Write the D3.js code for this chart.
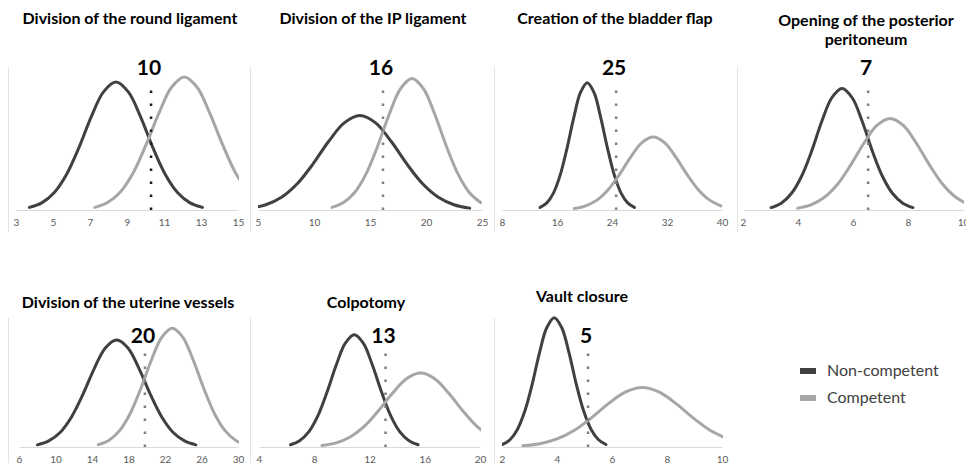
<!DOCTYPE html>
<html>
<head>
<meta charset="utf-8">
<script src="https://cdn.jsdelivr.net/npm/d3@7"></script>
<style>
  body { margin: 0; background: #fff; }
  svg { display: block; font-family: Lato, "Open Sans", sans-serif; }
</style>
</head>
<body>
<div id="chart"></div>
<script>
// one panel per surgical step
var titles = [
  ["Division of the round ligament"],
  ["Division of the IP ligament"],
  ["Creation of the bladder flap"],
  ["Opening of the posterior", "peritoneum"],
  ["Division of the uterine vessels"],
  ["Colpotomy"],
  ["Vault closure"]
];
var cutoffs = [10.3, 16.16, 24.6, 6.55, 19.8, 13.16, 5.13];
var cutoffLabels = ["10", "16", "25", "7", "20", "13", "5"];
var xDomains = [[3, 15], [5, 25], [8, 40], [2, 10], [6, 30], [4, 20], [2, 10]];
var tickValues = [
  [3, 5, 7, 9, 11, 13, 15],
  [5, 10, 15, 20, 25],
  [8, 16, 24, 32, 40],
  [2, 4, 6, 8, 10],
  [6, 10, 14, 18, 22, 26, 30],
  [4, 8, 12, 16, 20],
  [2, 4, 6, 8, 10]
];
var seriesNames = ["Non-competent", "Competent"];

// distribution curves (y in arbitrary units, 0-100)
var nonCompetentX = [
  [3.72, 4.39, 5.06, 5.73, 6.40, 7.06, 7.73, 8.40, 9.07, 9.74, 10.40, 11.07, 11.74, 12.41, 13.08],
  [4.3, 5.7, 7.1, 8.5, 9.9, 11.3, 12.7, 14.1, 15.5, 16.9, 18.3, 19.7, 21.1, 22.5, 23.9],
  [13.54, 14.52, 15.50, 16.48, 17.46, 18.44, 19.42, 20.40, 21.38, 22.36, 23.34, 24.32, 25.30, 26.28, 27.26],
  [3.02, 3.39, 3.76, 4.13, 4.50, 4.86, 5.23, 5.60, 5.97, 6.34, 6.70, 7.07, 7.44, 7.81, 8.18],
  [8.02, 9.26, 10.50, 11.74, 12.98, 14.22, 15.46, 16.70, 17.94, 19.18, 20.42, 21.66, 22.90, 24.14, 25.38],
  [6.28, 6.94, 7.60, 8.26, 8.92, 9.58, 10.24, 10.90, 11.56, 12.22, 12.88, 13.54, 14.20, 14.86, 15.52],
  [2.02, 2.29, 2.56, 2.83, 3.10, 3.36, 3.63, 3.90, 4.17, 4.44, 4.70, 4.97, 5.24, 5.51, 5.78]
];
var nonCompetentY = [
  [1.8, 5.0, 12.1, 24.9, 43.6, 65.0, 82.6, 89.5, 82.6, 65.0, 43.6, 24.9, 12.1, 5.0, 1.8],
  [1.3, 3.7, 8.9, 18.3, 32.1, 47.9, 60.9, 66, 60.9, 47.9, 32.1, 18.3, 8.9, 3.7, 1.3],
  [1.8, 5.0, 12.0, 24.7, 43.3, 64.6, 82.2, 89, 82.2, 64.6, 43.3, 24.7, 12.0, 5.0, 1.8],
  [1.7, 4.8, 11.5, 23.6, 41.4, 61.7, 78.5, 85, 78.5, 61.7, 41.4, 23.6, 11.5, 4.8, 1.7],
  [1.6, 4.6, 11.0, 22.6, 39.5, 59.0, 75.0, 81, 75.0, 59.0, 39.5, 22.6, 11.0, 4.6, 1.6],
  [1.7, 4.8, 11.5, 23.6, 41.4, 61.7, 78.5, 85, 78.5, 61.7, 41.4, 23.6, 11.5, 4.8, 1.7],
  [1.9, 5.5, 13.3, 27.2, 47.7, 71.2, 90.5, 98, 90.5, 71.2, 47.7, 27.2, 13.3, 5.5, 1.9]
];
var competentX = [
  [7.26, 7.95, 8.64, 9.33, 10.02, 10.72, 11.41, 12.10, 12.79, 13.48, 14.18, 14.87, 15.56],
  [11.61, 12.63, 13.65, 14.67, 15.69, 16.71, 17.73, 18.75, 19.77, 20.79, 21.81, 22.83, 23.85, 24.87],
  [18.52, 20.16, 21.80, 23.44, 25.08, 26.72, 28.36, 30.00, 31.64, 33.28, 34.92, 36.56, 38.20, 39.84],
  [3.99, 4.47, 4.95, 5.43, 5.91, 6.39, 6.87, 7.35, 7.83, 8.31, 8.79, 9.27, 9.75, 10.23],
  [14.68, 15.84, 17.00, 18.16, 19.32, 20.48, 21.64, 22.80, 23.96, 25.12, 26.28, 27.44, 28.60, 29.76, 30.92],
  [8.56, 9.58, 10.60, 11.62, 12.64, 13.66, 14.68, 15.70, 16.72, 17.74, 18.76, 19.78, 20.80],
  [2.76, 3.38, 4.00, 4.62, 5.24, 5.86, 6.48, 7.10, 7.72, 8.34, 8.96, 9.58, 10.20]
];
var competentY = [
  [1.8, 5.2, 12.6, 25.9, 45.3, 67.5, 85.8, 93, 85.8, 67.5, 45.3, 25.9, 12.6],
  [1.8, 5.2, 12.4, 25.6, 44.8, 66.8, 84.9, 92, 84.9, 66.8, 44.8, 25.6, 12.4, 5.2],
  [1.0, 2.9, 6.9, 14.2, 24.8, 37.0, 47.1, 51, 47.1, 37.0, 24.8, 14.2, 6.9, 2.9],
  [1.3, 3.6, 8.7, 17.8, 31.2, 46.5, 59.1, 64, 59.1, 46.5, 31.2, 17.8, 8.7, 3.6],
  [1.8, 5.0, 12.2, 25.0, 43.8, 65.3, 83.1, 90, 83.1, 65.3, 43.8, 25.0, 12.2, 5.0, 1.8],
  [1.1, 3.1, 7.6, 15.6, 27.3, 40.7, 51.7, 56, 51.7, 40.7, 27.3, 15.6, 7.6],
  [0.9, 2.5, 6.1, 12.5, 21.9, 32.7, 41.5, 45, 41.5, 32.7, 21.9, 12.5, 6.1]
];

var colors = ["#404040", "#a6a6a6"];

// panel frames: axis x-range, baseline, top of value range, title centre
var frames = [
  {x0: 16, x1: 238, base: 210, top: 67, border: 8, tx: 130, ty: 24},
  {x0: 258, x1: 482, base: 210, top: 67, border: 250, tx: 373, ty: 24},
  {x0: 502, x1: 722, base: 210, top: 67, border: 494, tx: 615, ty: 24},
  {x0: 743, x1: 963, base: 210, top: 67, border: 737, tx: 866, ty: 26},
  {x0: 19, x1: 238, base: 447, top: 315, border: 8, tx: 128, ty: 308},
  {x0: 259, x1: 480, base: 447, top: 315, border: 250, tx: 366, ty: 308},
  {x0: 502, x1: 722, base: 447, top: 315, border: 494, tx: 582, ty: 302}
];

var width = 966, height = 463;

var svg = d3.select("#chart").append("svg")
    .attr("width", width)
    .attr("height", height);

var defs = svg.append("defs");

frames.forEach(function(f, i) {
    var g = svg.append("g").attr("class", "panel");
    var x = d3.scaleLinear().domain(xDomains[i]).range([f.x0, f.x1]);
    var y = d3.scaleLinear().domain([0, 100]).range([f.base, f.top]);
    var topRow = f.base < 300;

    // faint chart border on the left
    g.append("line")
	.attr("x1", f.border + 0.5).attr("x2", f.border + 0.5)
	.attr("y1", topRow ? 67 : 318)
	.attr("y2", topRow ? 232 : 463)
	.attr("stroke", "#e3e3e3");

    // title (may wrap on two lines)
    var t = g.append("text")
	.attr("text-anchor", "middle")
	.attr("font-size", 16)
	.attr("font-weight", 700)
	.attr("fill", "#000");
    titles[i].forEach(function(line, k) {
	t.append("tspan").attr("x", f.tx).attr("y", f.ty + k * 19).text(line);
    });

    // x axis
    var axis = d3.axisBottom(x)
	.tickValues(tickValues[i])
	.tickSize(0)
	.tickSizeOuter(0)
	.tickPadding(9);
    var ag = g.append("g")
	.attr("transform", "translate(0," + f.base + ")")
	.call(axis);
    ag.select(".domain").attr("stroke", "#d9d9d9").attr("stroke-width", 1);
    ag.selectAll("text")
	.attr("font-family", "Lato, sans-serif")
	.attr("font-size", 10)
	.attr("fill", "#595959");

    // curves, clipped to the axis range
    var clipId = "clip" + i;
    defs.append("clipPath").attr("id", clipId)
	.append("rect")
	.attr("x", f.x0).attr("y", f.top - 20)
	.attr("width", f.x1 - f.x0 + 1).attr("height", f.base - f.top + 20);

    var line = d3.line()
	.x(function(d) { return x(d[0]); })
	.y(function(d) { return y(d[1]); })
	.curve(d3.curveCatmullRom.alpha(0.5));

    var series = [
	d3.zip(nonCompetentX[i], nonCompetentY[i]),
	d3.zip(competentX[i], competentY[i])
    ];

    g.append("g").attr("clip-path", "url(#" + clipId + ")")
	.selectAll("path")
	.data(series)
	.enter().append("path")
	.attr("d", line)
	.attr("fill", "none")
	.attr("stroke", function(d, k) { return colors[k]; })
	.attr("stroke-width", 3)
	.attr("stroke-linecap", "round");

    // cut-off dotted line
    var cx2 = x(cutoffs[i]);
    g.append("line")
	.attr("x1", cx2).attr("x2", cx2)
	.attr("y1", f.base)
	.attr("y2", topRow ? f.top + 21 : f.top + 33)
	.attr("stroke", i === 0 ? "#1a1a1a" : "#7f7f7f")
	.attr("stroke-width", 2.5)
	.attr("stroke-dasharray", "2.5,10.5");

    g.append("text")
	.attr("x", cx2 - 2)
	.attr("y", topRow ? 75 : 343)
	.attr("text-anchor", "middle")
	.attr("font-size", 21)
	.attr("font-weight", 700)
	.attr("fill", "#000")
	.text(cutoffLabels[i]);
});

// legend
var legend = svg.append("g").attr("transform", "translate(800,371)");
seriesNames.forEach(function(name, k) {
    legend.append("rect")
	.attr("x", 0).attr("y", k * 27 - 3)
	.attr("width", 16).attr("height", 6)
	.attr("fill", colors[k]);
    legend.append("text")
	.attr("x", 27).attr("y", k * 27 + 5)
	.attr("font-size", 16)
	.attr("fill", "#404040")
	.text(name);
});
</script>
</body>
</html>
